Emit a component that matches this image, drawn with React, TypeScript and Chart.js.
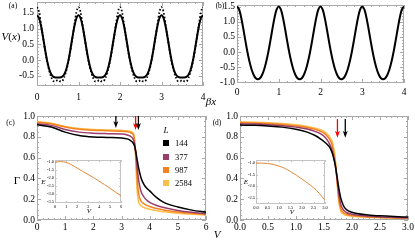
import React, { useEffect, useRef } from 'react';
import { Chart, registerables } from 'chart.js';

Chart.register(...registerables);

const SERIF = '"Liberation Serif", "Times New Roman", serif';

// ---------- Panel (a) / (b): potential V(x) versus beta*x ----------
const betaX = [
  0, 0.05, 0.1, 0.15, 0.2, 0.25, 0.3, 0.35, 0.4, 0.45, 0.5, 0.55, 0.6, 0.65, 0.7, 0.75, 0.8, 0.85, 0.9, 0.95,
  1, 1.05, 1.1, 1.15, 1.2, 1.25, 1.3, 1.35, 1.4, 1.45, 1.5, 1.55, 1.6, 1.65, 1.7, 1.75, 1.8, 1.85, 1.9, 1.95,
  2, 2.05, 2.1, 2.15, 2.2, 2.25, 2.3, 2.35, 2.4, 2.45, 2.5, 2.55, 2.6, 2.65, 2.7, 2.75, 2.8, 2.85, 2.9, 2.95,
  3, 3.05, 3.1, 3.15, 3.2, 3.25, 3.3, 3.35, 3.4, 3.45, 3.5, 3.55, 3.6, 3.65, 3.7, 3.75, 3.8, 3.85, 3.9, 3.95,
  4,
];
const aSolid = [
  1.42, 1.325, 1.062, 0.692, 0.294, -0.057, -0.314, -0.466, -0.532, -0.549, -0.55, -0.549, -0.532, -0.466, -0.314, -0.057, 0.294, 0.692, 1.062, 1.325,
  1.42, 1.325, 1.062, 0.692, 0.294, -0.057, -0.314, -0.466, -0.532, -0.549, -0.55, -0.549, -0.532, -0.466, -0.314, -0.057, 0.294, 0.692, 1.062, 1.325,
  1.42, 1.325, 1.062, 0.692, 0.294, -0.057, -0.314, -0.466, -0.532, -0.549, -0.55, -0.549, -0.532, -0.466, -0.314, -0.057, 0.294, 0.692, 1.062, 1.325,
  1.42, 1.325, 1.062, 0.692, 0.294, -0.057, -0.314, -0.466, -0.532, -0.549, -0.55, -0.549, -0.532, -0.466, -0.314, -0.057, 0.294, 0.692, 1.062, 1.325,
  1.42,
];
const aDotted = [
  1.68, 1.52, 1.11, 0.68, 0.27, -0.09, -0.36, -0.56, -0.67, -0.67, -0.63, -0.67, -0.67, -0.56, -0.36, -0.09, 0.27, 0.68, 1.11, 1.52,
  1.68, 1.52, 1.11, 0.68, 0.27, -0.09, -0.36, -0.56, -0.67, -0.67, -0.63, -0.67, -0.67, -0.56, -0.36, -0.09, 0.27, 0.68, 1.11, 1.52,
  1.68, 1.52, 1.11, 0.68, 0.27, -0.09, -0.36, -0.56, -0.67, -0.67, -0.63, -0.67, -0.67, -0.56, -0.36, -0.09, 0.27, 0.68, 1.11, 1.52,
  1.68, 1.52, 1.11, 0.68, 0.27, -0.09, -0.36, -0.56, -0.67, -0.67, -0.63, -0.67, -0.67, -0.56, -0.36, -0.09, 0.27, 0.68, 1.11, 1.52,
  1.68,
];
const bCurve = [
  1.5, 1.404, 1.141, 0.775, 0.377, 0, -0.323, -0.577, -0.757, -0.864, -0.9, -0.864, -0.757, -0.577, -0.323, 0, 0.377, 0.775, 1.141, 1.404,
  1.5, 1.404, 1.141, 0.775, 0.377, 0, -0.323, -0.577, -0.757, -0.864, -0.9, -0.864, -0.757, -0.577, -0.323, 0, 0.377, 0.775, 1.141, 1.404,
  1.5, 1.404, 1.141, 0.775, 0.377, 0, -0.323, -0.577, -0.757, -0.864, -0.9, -0.864, -0.757, -0.577, -0.323, 0, 0.377, 0.775, 1.141, 1.404,
  1.5, 1.404, 1.141, 0.775, 0.377, 0, -0.323, -0.577, -0.757, -0.864, -0.9, -0.864, -0.757, -0.577, -0.323, 0, 0.377, 0.775, 1.141, 1.404,
  1.5,
];
const abXTicks = [0, 1, 2, 3, 4];
const aYTicks = [-0.5, 0, 0.5, 1, 1.5];
const bYTicks = [-1, -0.5, 0, 0.5, 1, 1.5];

// ---------- Panel (c): Gamma versus V ----------
const sizes = ['144', '377', '987', '2584'];
const sizeColors = ['#000000', '#993d6b', '#f5821f', '#fbbd4b'];
const cV = [0, 0.5, 1, 1.5, 2, 2.5, 3, 3.2, 3.3, 3.4, 3.45, 3.5, 3.55, 3.6, 3.65, 3.7, 3.8, 3.9, 4, 4.25, 4.5, 5, 5.5, 6];
const cG144 = [0.915, 0.895, 0.845, 0.812, 0.798, 0.794, 0.789, 0.78, 0.768, 0.745, 0.72, 0.67, 0.59, 0.51, 0.45, 0.4, 0.34, 0.305, 0.28, 0.215, 0.17, 0.125, 0.095, 0.075];
const cG377 = [0.925, 0.91, 0.87, 0.845, 0.835, 0.83, 0.826, 0.818, 0.808, 0.785, 0.75, 0.66, 0.52, 0.4, 0.32, 0.27, 0.22, 0.19, 0.17, 0.14, 0.12, 0.092, 0.074, 0.062];
const cG987 = [0.94, 0.925, 0.895, 0.873, 0.863, 0.858, 0.853, 0.848, 0.842, 0.825, 0.79, 0.65, 0.42, 0.27, 0.21, 0.18, 0.155, 0.14, 0.13, 0.11, 0.097, 0.077, 0.064, 0.055];
const cG2584 = [0.948, 0.93, 0.9, 0.88, 0.87, 0.866, 0.862, 0.858, 0.853, 0.84, 0.81, 0.6, 0.3, 0.18, 0.15, 0.135, 0.12, 0.11, 0.103, 0.09, 0.08, 0.066, 0.056, 0.048];
const cXTicks = [0, 1, 2, 3, 4, 5, 6];
const gYTicks = [0, 0.2, 0.4, 0.6, 0.8, 1];
const cArrowV = [2.8, 3.5, 3.6];
const cArrowColor = ['#000000', '#ff0000', '#000000'];
const cArrowTip = [0.885, 0.865, 0.865];

// inset of (c): E versus V
const cInsetV = [0, 0.5, 1, 1.5, 2, 2.5, 3, 3.5, 4, 4.5, 5, 5.5, 6];
const cInsetE = [-1.0, -0.97, -1.02, -1.17, -1.37, -1.58, -1.78, -1.98, -2.2, -2.42, -2.65, -2.89, -3.13];
const cInsetXTicks = [0, 1, 2, 3, 4, 5, 6];
const cInsetYTicks = [-3.5, -3, -2.5, -2, -1.5, -1];

// ---------- Panel (d): Gamma versus V ----------
const dV = [0, 0.25, 0.5, 0.75, 1, 1.2, 1.35, 1.45, 1.5, 1.55, 1.6, 1.65, 1.7, 1.73, 1.76, 1.8, 1.85, 1.9, 2, 2.25, 2.5, 2.75, 3];
const dG144 = [0.913, 0.91, 0.903, 0.893, 0.872, 0.845, 0.81, 0.775, 0.755, 0.73, 0.7, 0.64, 0.53, 0.43, 0.32, 0.21, 0.135, 0.1, 0.075, 0.05, 0.04, 0.033, 0.028];
const dG377 = [0.925, 0.922, 0.916, 0.907, 0.893, 0.875, 0.85, 0.825, 0.805, 0.775, 0.73, 0.66, 0.53, 0.41, 0.27, 0.15, 0.095, 0.072, 0.055, 0.038, 0.03, 0.025, 0.021];
const dG987 = [0.935, 0.932, 0.927, 0.918, 0.905, 0.89, 0.87, 0.85, 0.835, 0.81, 0.775, 0.71, 0.56, 0.4, 0.23, 0.11, 0.07, 0.055, 0.043, 0.031, 0.025, 0.021, 0.018];
const dG2584 = [0.943, 0.94, 0.935, 0.927, 0.915, 0.9, 0.883, 0.865, 0.852, 0.83, 0.8, 0.745, 0.6, 0.39, 0.19, 0.085, 0.055, 0.045, 0.036, 0.027, 0.022, 0.018, 0.015];
const dXTicks = [0, 0.5, 1, 1.5, 2, 2.5, 3];
const dArrowV = [1.74, 1.88];
const dArrowColor = ['#ff0000', '#000000'];
const dArrowTip = [0.79, 0.79];

// inset of (d)
const dInsetV = [0, 0.25, 0.5, 0.75, 1, 1.25, 1.5, 1.75, 2, 2.25, 2.5, 2.75, 3];
const dInsetE = [-1.0, -1.005, -1.02, -1.06, -1.13, -1.23, -1.37, -1.52, -1.69, -1.87, -2.06, -2.3, -2.6];
const dInsetXTicks = [0, 0.5, 1, 1.5, 2, 2.5, 3];
const dInsetYTicks = [-2.5, -2, -1.5, -1];

const INSET_COLOR = '#e0883a';

// ---------- helpers ----------
function minorTicks(min: number, max: number, step: number) {
  const out: number[] = [];
  const n = Math.round((max - min) / step);
  for (let i = 0; i <= n; i++) out.push(+(min + i * step).toFixed(6));
  return out;
}

const framePlugin = {
  id: 'frame',
  beforeDatasetsDraw(chart: any, _a: any, o: any) {
    if (!o || !o.color) return;
    const { ctx, chartArea: a, scales } = chart;
    const xs = scales.x;
    const ys = scales.y;
    ctx.save();
    ctx.strokeStyle = o.color;
    ctx.lineWidth = 1;
    ctx.strokeRect(a.left + 0.5, a.top + 0.5, a.right - a.left - 1, a.bottom - a.top - 1);
    ctx.beginPath();
    const xt = (vals: number[], len: number) => {
      for (const v of vals) {
        const p = Math.round(xs.getPixelForValue(v)) + 0.5;
        ctx.moveTo(p, a.bottom);
        ctx.lineTo(p, a.bottom - len);
        ctx.moveTo(p, a.top);
        ctx.lineTo(p, a.top + len);
      }
    };
    const yt = (vals: number[], len: number) => {
      for (const v of vals) {
        const p = Math.round(ys.getPixelForValue(v)) + 0.5;
        ctx.moveTo(a.left, p);
        ctx.lineTo(a.left + len, p);
        ctx.moveTo(a.right, p);
        ctx.lineTo(a.right - len, p);
      }
    };
    xt(o.xMajor, o.major);
    xt(o.xMinor, o.minor);
    yt(o.yMajor, o.major);
    yt(o.yMinor, o.minor);
    ctx.stroke();
    ctx.restore();
  },
};

const arrowPlugin = {
  id: 'arrows',
  afterDatasetsDraw(chart: any, _a: any, o: any) {
    if (!o || !o.items) return;
    const { ctx, scales } = chart;
    ctx.save();
    for (const it of o.items) {
      const x = scales.x.getPixelForValue(it.x);
      const y1 = scales.y.getPixelForValue(it.y1);
      const y2 = scales.y.getPixelForValue(it.y2);
      ctx.strokeStyle = it.color;
      ctx.fillStyle = it.color;
      ctx.lineWidth = 1.3;
      ctx.beginPath();
      ctx.moveTo(x, y1);
      ctx.lineTo(x, y2 - 3);
      ctx.stroke();
      ctx.beginPath();
      ctx.moveTo(x, y2);
      ctx.lineTo(x - 2.5, y2 - 7);
      ctx.lineTo(x, y2 - 5);
      ctx.lineTo(x + 2.5, y2 - 7);
      ctx.closePath();
      ctx.fill();
    }
    ctx.restore();
  },
};

Chart.register(framePlugin, arrowPlugin);

type AxisArgs = {
  min: number;
  max: number;
  ticks: number[];
  dec: number;
  size: number;
  padding: number;
  fixed: number;
  vertical: boolean;
};

function axis(p: AxisArgs) {
  return {
    type: 'linear',
    min: p.min,
    max: p.max,
    grid: { display: false, drawTicks: false },
    border: { display: false },
    ticks: {
      autoSkip: false,
      maxRotation: 0,
      padding: p.padding,
      color: '#000',
      font: { family: SERIF, size: p.size },
      callback: (v: any) => (p.dec > 0 ? Number(v).toFixed(p.dec) : String(Math.round(Number(v)))),
    },
    afterBuildTicks: (s: any) => {
      s.ticks = p.ticks.map((v) => ({ value: v }));
    },
    afterFit: (s: any) => {
      if (p.vertical) s.width = p.fixed;
      else s.height = p.fixed;
      s.paddingLeft = 0;
      s.paddingRight = 0;
      s.paddingTop = 0;
      s.paddingBottom = 0;
    },
  };
}

type Series = { xs: number[]; ys: number[]; color: string; width: number; dash?: number[] };

type PanelProps = {
  left: number;
  top: number;
  width: number;
  height: number;
  plot: [number, number, number, number]; // l, t, r, b inside canvas
  x: { min: number; max: number; ticks: number[]; dec: number; pad: number; minor: number };
  y: { min: number; max: number; ticks: number[]; dec: number; pad: number; minor: number };
  fontSize: number;
  series: Series[];
  frameColor: string;
  major: number;
  minor: number;
  arrows?: { x: number; y1: number; y2: number; color: string }[];
};

function Panel(props: PanelProps) {
  const ref = useRef<HTMLCanvasElement>(null);
  useEffect(() => {
    const [pl, pt, pr, pb] = props.plot;
    const chart = new Chart(ref.current as HTMLCanvasElement, {
      type: 'line',
      data: {
        datasets: props.series.map((s) => ({
          data: s.xs.map((x, i) => ({ x, y: s.ys[i] })),
          borderColor: s.color,
          borderWidth: s.width,
          borderDash: s.dash || [],
          pointRadius: 0,
          fill: false,
          cubicInterpolationMode: 'monotone',
        })),
      } as any,
      options: {
        responsive: false,
        animation: false,
        events: [],
        layout: { padding: { left: 0, top: pt, right: props.width - pr, bottom: 0 } },
        scales: {
          x: axis({
            min: props.x.min,
            max: props.x.max,
            ticks: props.x.ticks,
            dec: props.x.dec,
            size: props.fontSize,
            padding: props.x.pad,
            fixed: props.height - pb,
            vertical: false,
          }),
          y: axis({
            min: props.y.min,
            max: props.y.max,
            ticks: props.y.ticks,
            dec: props.y.dec,
            size: props.fontSize,
            padding: props.y.pad,
            fixed: pl,
            vertical: true,
          }),
        },
        plugins: {
          legend: { display: false },
          tooltip: { enabled: false },
          frame: {
            color: props.frameColor,
            major: props.major,
            minor: props.minor,
            xMajor: props.x.ticks,
            yMajor: props.y.ticks,
            xMinor: minorTicks(props.x.ticks[0], props.x.ticks[props.x.ticks.length - 1], props.x.minor).filter(
              (v) => v >= props.x.min && v <= props.x.max
            ),
            yMinor: minorTicks(props.y.ticks[0], props.y.ticks[props.y.ticks.length - 1], props.y.minor).filter(
              (v) => v >= props.y.min && v <= props.y.max
            ),
          },
          arrows: { items: props.arrows || null },
        },
      } as any,
    });
    return () => chart.destroy();
  }, []);
  return (
    <div style={{ position: 'absolute', left: props.left, top: props.top, width: props.width, height: props.height }}>
      <canvas ref={ref} width={props.width} height={props.height} style={{ display: 'block' }} />
    </div>
  );
}

function Label(p: { x: number; y: number; size: number; italic?: boolean; left?: boolean; children: any }) {
  return (
    <div
      style={{
        position: 'absolute',
        left: p.x,
        top: p.y,
        transform: p.left ? 'translate(0,-50%)' : 'translate(-50%,-50%)',
        fontFamily: SERIF,
        fontSize: p.size,
        fontStyle: p.italic ? 'italic' : 'normal',
        lineHeight: 1,
        whiteSpace: 'nowrap',
        color: '#000',
      }}
    >
      {p.children}
    </div>
  );
}

export default function App() {
  const FRAME = '#a8a8a8';
  const cSeries = [cG144, cG377, cG987, cG2584];
  const dSeries = [dG144, dG377, dG987, dG2584];
  const legendY = [143, 157, 170, 183];
  return (
    <div style={{ position: 'fixed', left: 0, top: 0, width: 415, height: 242, background: '#fff', overflow: 'hidden' }}>
      <Panel
        left={0}
        top={0}
        width={210}
        height={106}
        plot={[37, 2, 203, 86]}
        x={{ min: 0, max: 4, ticks: abXTicks, dec: 0, pad: 6, minor: 0.2 }}
        y={{ min: -0.82, max: 1.84, ticks: aYTicks, dec: 1, pad: 3, minor: 0.1 }}
        fontSize={9.5}
        frameColor={FRAME}
        major={4}
        minor={2}
        series={[
          { xs: betaX, ys: aSolid, color: '#000', width: 2 },
          { xs: betaX, ys: aDotted, color: '#000', width: 1.8, dash: [1.6, 2] },
        ]}
      />
      <Panel
        left={205}
        top={0}
        width={210}
        height={106}
        plot={[32, 5, 199, 83]}
        x={{ min: 0, max: 4, ticks: abXTicks, dec: 0, pad: 4, minor: 0.2 }}
        y={{ min: -1.02, max: 1.55, ticks: bYTicks, dec: 1, pad: 2, minor: 0.1 }}
        fontSize={9.5}
        frameColor={FRAME}
        major={4}
        minor={2}
        series={[{ xs: betaX, ys: bCurve, color: '#000', width: 2 }]}
      />
      <Panel
        left={0}
        top={108}
        width={212}
        height={134}
        plot={[37, 8, 206, 112]}
        x={{ min: 0, max: 6, ticks: cXTicks, dec: 0, pad: 2, minor: 0.2 }}
        y={{ min: 0, max: 1, ticks: gYTicks, dec: 1, pad: 2, minor: 0.05 }}
        fontSize={9.5}
        frameColor={FRAME}
        major={4}
        minor={2}
        series={cSeries.map((ys, i) => ({ xs: cV, ys, color: sizeColors[i], width: 1.5 }))}
        arrows={cArrowV.map((v, i) => ({ x: v, y1: 1.0, y2: cArrowTip[i], color: cArrowColor[i] }))}
      />
      <Panel
        left={212}
        top={108}
        width={203}
        height={134}
        plot={[28, 8, 196, 112]}
        x={{ min: 0, max: 3, ticks: dXTicks, dec: 1, pad: 2, minor: 0.1 }}
        y={{ min: 0, max: 1, ticks: gYTicks, dec: 1, pad: 2, minor: 0.05 }}
        fontSize={9.5}
        frameColor={FRAME}
        major={4}
        minor={2}
        series={dSeries.map((ys, i) => ({ xs: dV, ys, color: sizeColors[i], width: 1.5 }))}
        arrows={dArrowV.map((v, i) => ({ x: v, y1: 0.97, y2: dArrowTip[i], color: dArrowColor[i] }))}
      />
      <Panel
        left={30}
        top={156}
        width={96}
        height={56}
        plot={[25, 4, 91, 47]}
        x={{ min: 0, max: 6, ticks: cInsetXTicks, dec: 0, pad: 1, minor: 0.5 }}
        y={{ min: -3.58, max: -0.87, ticks: cInsetYTicks, dec: 1, pad: 1, minor: 0.1 }}
        fontSize={4.5}
        frameColor="#c4c4c4"
        major={2}
        minor={1}
        series={[{ xs: cInsetV, ys: cInsetE, color: INSET_COLOR, width: 1 }]}
      />
      <Panel
        left={230}
        top={156}
        width={100}
        height={57}
        plot={[26, 4, 95, 48]}
        x={{ min: 0, max: 3, ticks: dInsetXTicks, dec: 1, pad: 1, minor: 0.1 }}
        y={{ min: -2.76, max: -0.87, ticks: dInsetYTicks, dec: 1, pad: 1, minor: 0.1 }}
        fontSize={4.5}
        frameColor="#c4c4c4"
        major={2}
        minor={1}
        series={[{ xs: dInsetV, ys: dInsetE, color: INSET_COLOR, width: 1 }]}
      />

      <Label x={13} y={6} size={7.5}>(a)</Label>
      <Label x={11} y={35.5} size={11}>
        <i>V</i>(<i>x</i>)
      </Label>
      <Label x={220} y={6} size={7.5}>(b)</Label>
      <Label x={211} y={101} size={11} italic>
        βx
      </Label>
      <Label x={10.5} y={122.5} size={7.5}>(c)</Label>
      <Label x={17} y={180} size={11}>Γ</Label>
      <Label x={217} y={234} size={11} italic>
        V
      </Label>
      <Label x={217} y={123} size={7.5}>(d)</Label>

      <Label x={166} y={130} size={9} italic>
        L
      </Label>
      {sizes.map((s, i) => (
        <React.Fragment key={s}>
          <div
            style={{
              position: 'absolute',
              left: 163,
              top: legendY[i] - 3,
              width: 6,
              height: 6,
              background: sizeColors[i],
            }}
          />
          <Label x={175} y={legendY[i]} size={8.5} left>
            {s}
          </Label>
        </React.Fragment>
      ))}

      <Label x={43.5} y={182} size={7} italic>
        E
      </Label>
      <Label x={89} y={211} size={7} italic>
        V
      </Label>
      <Label x={246} y={182} size={7} italic>
        E
      </Label>
      <Label x={292} y={212} size={7} italic>
        V
      </Label>
    </div>
  );
}
